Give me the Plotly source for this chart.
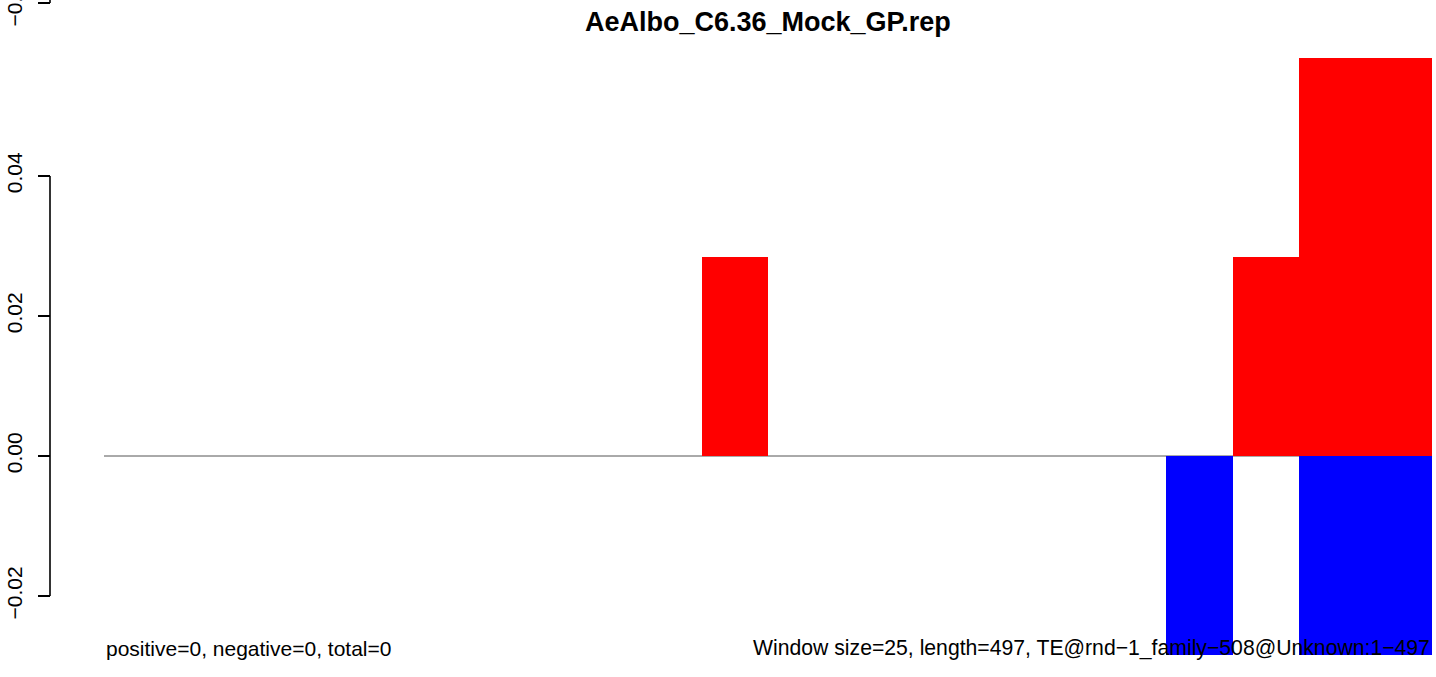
import plotly.graph_objects as go

# ---- data ----
window_index = list(range(20))
positive_vals = [0, 0, 0, 0, 0, 0, 0, 0, 0, 0.0284, 0, 0, 0, 0, 0, 0, 0, 0.0284, 0.0568, 0.0568]
negative_vals = [0, 0, 0, 0, 0, 0, 0, 0, 0, 0, 0, 0, 0, 0, 0, 0, -0.0284, 0, -0.0284, -0.0284]
y_tick_vals = [-0.02, 0.0, 0.02, 0.04, 0.0647]
y_tick_text = ["\u22120.02", "0.00", "0.02", "0.04", "\u22120.06"]
title_text = "AeAlbo_C6.36_Mock_GP.rep"
left_note = "positive=0, negative=0, total=0"
right_note = "Window size=25, length=497, TE@rnd\u22121_family\u2212508@Unknown:1\u2212497"

W, H = 1436, 677
FONT = "Liberation Sans, Arial, Helvetica, sans-serif"

x_centers = [i + 0.5 for i in window_index]

fig = go.Figure()
fig.add_trace(go.Bar(x=x_centers, y=positive_vals, width=1, marker=dict(color="#FF0000", line=dict(width=0)),
                     showlegend=False, hoverinfo="skip"))
fig.add_trace(go.Bar(x=x_centers, y=negative_vals, width=1, marker=dict(color="#0000FF", line=dict(width=0)),
                     showlegend=False, hoverinfo="skip"))

axis_x = 50 / W

fig.update_layout(
    width=W, height=H,
    margin=dict(l=0, r=0, t=0, b=0, autoexpand=False),
    paper_bgcolor="white", plot_bgcolor="white",
    barmode="overlay", bargap=0,
    font=dict(family=FONT, size=21, color="black"),
    xaxis=dict(range=[-1.5663, 20.060], visible=False, showgrid=False, zeroline=False, automargin=False),
    yaxis=dict(range=[-0.03157, 0.06514], anchor="free", position=axis_x, automargin=False,
               showgrid=False, zeroline=False, showline=False,
               tickmode="array", tickvals=y_tick_vals, ticktext=y_tick_text,
               ticks="outside", ticklen=12, tickwidth=1.6, tickcolor="black",
               tickangle=-90, tickfont=dict(family=FONT, size=21, color="black"),
               ticklabelstandoff=8, ticklabeloverflow="allow"),
    shapes=[
        dict(type="line", xref="x", yref="y", x0=0, x1=20, y0=0, y1=0,
             line=dict(color="#555555", width=1), layer="below"),
        dict(type="line", xref="paper", yref="y", x0=axis_x, x1=axis_x, y0=-0.02, y1=0.04,
             line=dict(color="black", width=1.6)),
        dict(type="line", xref="paper", yref="y", x0=axis_x, x1=axis_x, y0=0.0647, y1=0.06514,
             line=dict(color="black", width=1.6)),
    ],
    annotations=[
        dict(text="<b>" + title_text + "</b>", xref="x", yref="paper", x=10, y=1 - 22 / H,
             xanchor="center", yanchor="middle", showarrow=False,
             font=dict(family=FONT, size=27, color="black")),
        dict(text=left_note, xref="x", yref="paper", x=0, y=1 - 648 / H,
             xanchor="left", yanchor="middle", showarrow=False,
             font=dict(family=FONT, size=21, color="black")),
        dict(text=right_note, xref="x", yref="paper", x=20, y=1 - 648 / H,
             xanchor="right", yanchor="middle", showarrow=False,
             font=dict(family=FONT, size=21.2, color="black")),
    ],
)

fig.write_html("out.html", config={"displayModeBar": False},
               post_script="document.body.style.margin='0';document.body.style.overflow='hidden';")
